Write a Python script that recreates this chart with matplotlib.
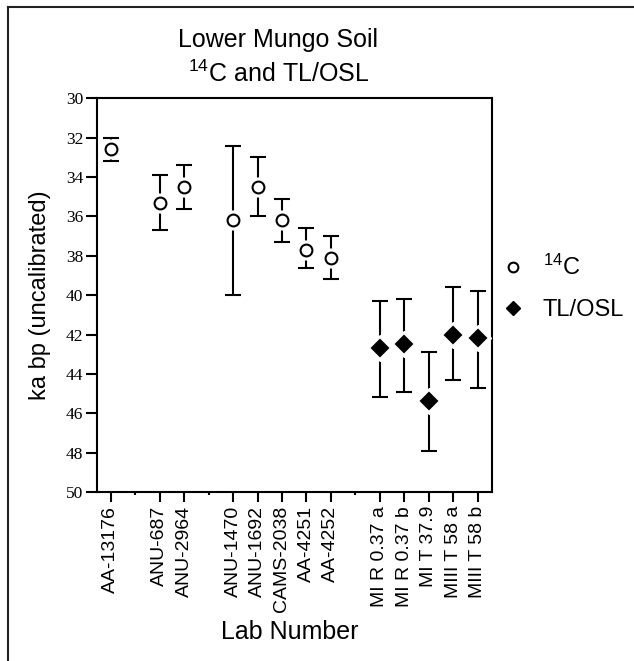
import matplotlib
matplotlib.use("Agg")
from matplotlib import pyplot as plt
from matplotlib.lines import Line2D

plt.rcParams['font.family'] = ['Liberation Sans', 'DejaVu Sans']
plt.rcParams['mathtext.fontset'] = 'custom'
plt.rcParams['mathtext.rm'] = 'Liberation Sans'
plt.rcParams['mathtext.it'] = 'Liberation Sans'

# slot positions on the x axis (gaps between groups are empty slots)
c14_pos = [0, 2, 3, 5, 6, 7, 8, 9]
c14_labels = ["AA-13176", "ANU-687", "ANU-2964", "ANU-1470", "ANU-1692",
              "CAMS-2038", "AA-4251", "AA-4252"]
c14_age = [32.6, 35.3, 34.5, 36.2, 34.5, 36.2, 37.7, 38.1]
c14_low = [32.0, 33.9, 33.4, 32.4, 33.0, 35.1, 36.6, 37.0]
c14_high = [33.2, 36.7, 35.6, 40.0, 36.0, 37.3, 38.6, 39.2]

tl_pos = [11, 12, 13, 14, 15]
tl_labels = ["MI R 0.37 a", "MI R 0.37 b", "MI T 37.9", "MIII T 58 a",
             "MIII T 58 b"]
tl_age = [42.7, 42.5, 45.4, 42.0, 42.2]
tl_low = [40.3, 40.2, 42.9, 39.6, 39.8]
tl_high = [45.2, 44.9, 47.9, 44.3, 44.7]

empty_pos = [1, 4, 10]

fig = plt.figure(figsize=(6.34, 6.61), dpi=100)
ax = fig.add_axes([0.153, 0.2557, 0.6225, 0.5956])


def draw_series(pos, age, low, high, marker, face, size):
    yerr = [[a - l for a, l in zip(age, low)], [h - a for a, h in zip(age, high)]]
    ax.errorbar(pos, age, yerr=yerr, fmt="none", ecolor="black",
                elinewidth=1.5, capsize=6, capthick=1.5, zorder=2)
    # white halo so the bar stops short of the symbol
    ax.plot(pos, age, marker, ms=size + 5, mfc="white", mec="white",
            ls="none", zorder=3)
    ax.plot(pos, age, marker, ms=size, mfc=face, mec="black", mew=1.5,
            ls="none", zorder=4)


draw_series(c14_pos, c14_age, c14_low, c14_high, "o", "white", 8.5)
draw_series(tl_pos, tl_age, tl_low, tl_high, "D", "black", 8)

ax.set_ylim(50, 30)
ax.set_xlim(-0.56, 15.57)
ax.set_yticks(range(30, 51, 2))
ax.set_yticklabels([str(v) for v in range(30, 51, 2)],
                   family="Liberation Serif", fontsize=12.5)
ax.set_xticks(c14_pos + tl_pos)
ax.set_xticklabels(c14_labels + tl_labels, rotation=90, fontsize=14)
ax.set_xticks(empty_pos, minor=True)
ax.tick_params(axis="y", direction="out", length=8, width=1.5, pad=2)
ax.tick_params(axis="x", which="major", direction="out", length=7, width=1.5,
               pad=3)
ax.tick_params(axis="x", which="minor", direction="out", length=2.5, width=1.5)
for s in ax.spines.values():
    s.set_linewidth(1.5)

fig.text(0.153 - 0.09, 0.553, "ka bp (uncalibrated)", rotation=90,
         ha="center", va="center", fontsize=17)
fig.text(0.457, 0.044, "Lab Number", ha="center", va="center", fontsize=18)
fig.text(0.439, 0.94, "Lower Mungo Soil", ha="center", va="center",
         fontsize=18)
fig.text(0.439, 0.889, r"$^{14}$C and TL/OSL", ha="center", va="center",
         fontsize=18)

handles = [Line2D([], [], marker="o", ls="none", ms=7, mfc="white",
                  mec="black", mew=1.5),
           Line2D([], [], marker="D", ls="none", ms=7, mfc="black",
                  mec="black")]
fig.legend(handles, [r"$^{14}$C", "TL/OSL"], loc="center left",
           bbox_to_anchor=(0.757, 0.564), frameon=False, fontsize=17,
           handlelength=1.0, handletextpad=0.75, labelspacing=0.8)

# scan frame lines at left and top
fig.add_artist(Line2D([8 / 634, 8 / 634], [0, 1 - 7 / 661], color="#222222",
                      lw=1.5, transform=fig.transFigure))
fig.add_artist(Line2D([8 / 634, 1], [1 - 7 / 661, 1 - 7 / 661],
                      color="#222222", lw=1.5, transform=fig.transFigure))

fig.savefig("out.png", dpi=100)
